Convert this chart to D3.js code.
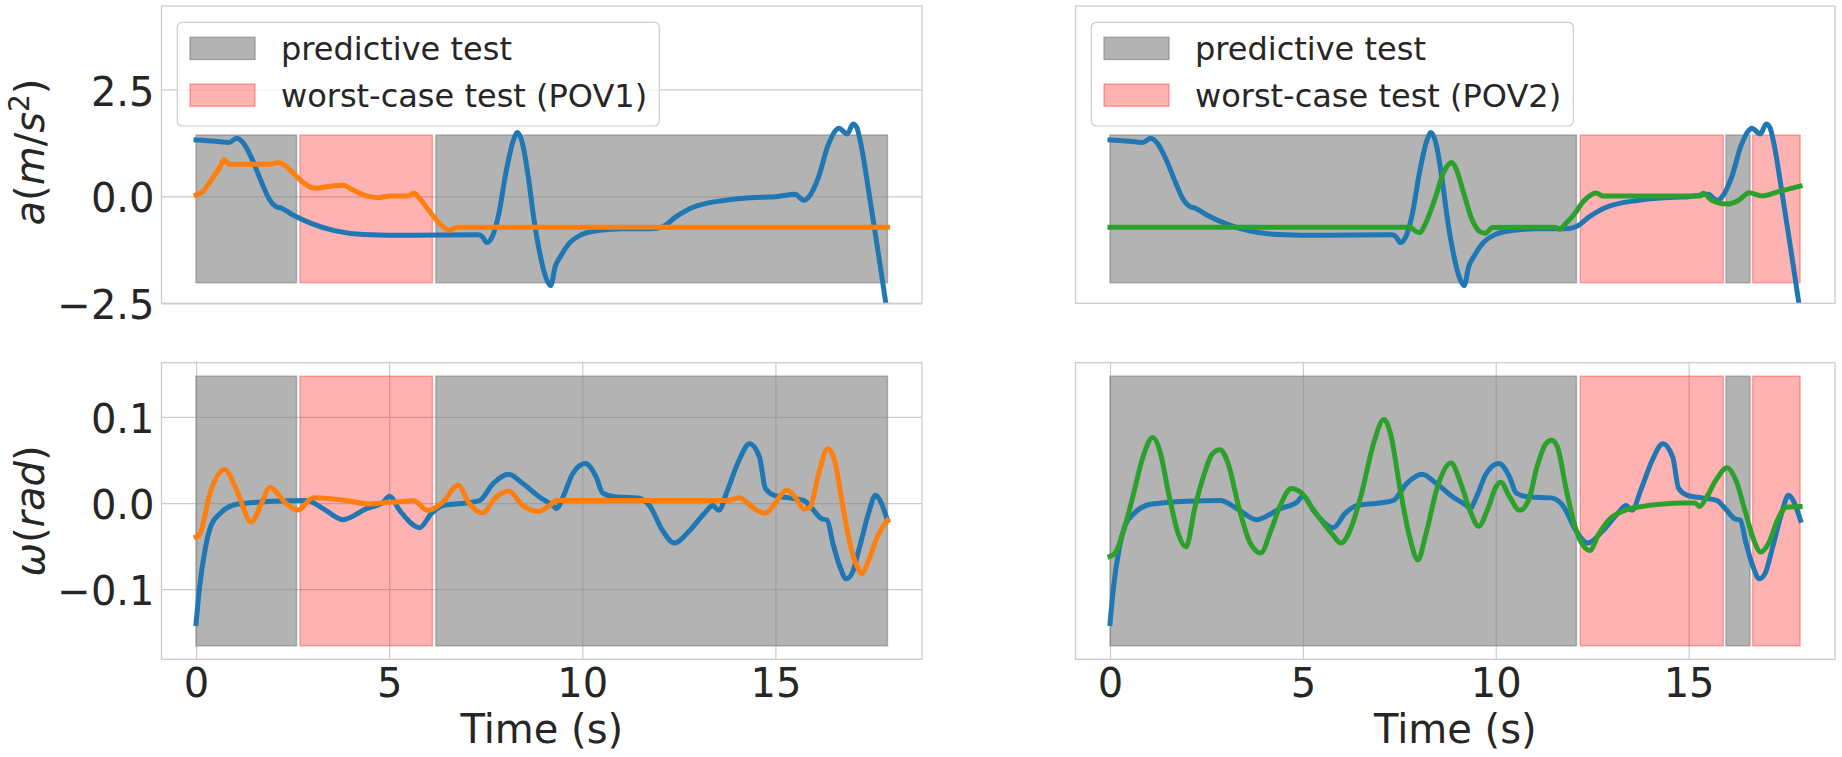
<!DOCTYPE html>
<html>
<head>
<meta charset="utf-8">
<script src="https://cdn.jsdelivr.net/npm/d3@7"></script>
<style>
  body { margin: 0; background: #fff; }
  text { font-family: "DejaVu Sans", sans-serif; fill: #262626; }
</style>
</head>
<body>
<svg id="chart" width="1842" height="757"></svg>
<script>
// ---- data: [time (s), value] ----
const accelBlue = [[0,1.32],[0.5,1.29],[0.85,1.26],[1.05,1.36],[1.23,1.24],[1.46,0.85],[1.69,0.34],[1.91,-0.09],[2.07,-0.24],[2.19,-0.27],[2.52,-0.44],[2.98,-0.63],[3.58,-0.80],[4.34,-0.89],[5.56,-0.91],[7.31,-0.90],[7.41,-0.94],[7.53,-1.08],[7.66,-0.96],[7.84,-0.40],[8.02,0.54],[8.22,1.32],[8.32,1.49],[8.45,1.24],[8.60,0.46],[8.75,-0.55],[8.90,-1.33],[9.05,-1.88],[9.18,-2.09],[9.30,-1.64],[9.43,-1.41],[9.66,-1.10],[9.97,-0.90],[10.42,-0.80],[11.03,-0.76],[11.79,-0.76],[12.08,-0.71],[12.42,-0.48],[12.85,-0.26],[13.71,-0.09],[14.67,-0.02],[15.0,-0.01],[15.52,0.05],[15.64,-0.04],[15.74,-0.09],[15.85,-0.03],[16.12,0.46],[16.35,1.16],[16.57,1.55],[16.64,1.59],[16.86,1.46],[17.01,1.69],[17.10,1.62],[17.25,1.05],[17.41,0.15],[17.56,-0.72],[17.71,-1.6],[17.9,-2.75]];
const accelPov1 = [[0,0.03],[0.17,0.11],[0.39,0.38],[0.62,0.69],[0.73,0.86],[0.85,0.75],[1.31,0.75],[1.91,0.75],[2.14,0.79],[2.29,0.73],[2.52,0.54],[2.75,0.34],[2.98,0.21],[3.13,0.19],[3.43,0.23],[3.81,0.26],[4.04,0.16],[4.42,0.01],[4.72,-0.03],[5.03,0.01],[5.48,0.01],[5.64,0.07],[5.79,-0.05],[6.02,-0.32],[6.29,-0.62],[6.55,-0.79],[6.65,-0.76],[6.78,-0.72],[17.9,-0.72]];
const accelPov2 = [[0,-0.72],[7.80,-0.72],[7.88,-0.79],[8.03,-0.85],[8.18,-0.63],[8.41,-0.09],[8.64,0.54],[8.76,0.73],[8.86,0.79],[8.97,0.65],[9.17,0.07],[9.39,-0.55],[9.62,-0.84],[9.73,-0.86],[9.92,-0.73],[11.52,-0.72],[11.65,-0.77],[11.82,-0.63],[12.05,-0.40],[12.27,-0.12],[12.5,0.05],[12.6,0.08],[12.77,0.01],[15.30,0.01],[15.38,0.07],[15.6,-0.09],[15.99,-0.18],[16.3,-0.09],[16.57,0.085],[16.9,0.01],[17.33,0.11],[17.89,0.24]];

const omegaBlue = [[0,-0.140],[0.09,-0.098],[0.23,-0.055],[0.39,-0.026],[0.62,-0.0123],[1.05,-0.0015],[2.0,0.002],[2.86,0.003],[3.29,-0.0065],[3.8,-0.0193],[4.41,-0.0065],[4.84,0.001],[5.01,0.0078],[5.27,-0.0085],[5.79,-0.0286],[6.09,-0.0123],[6.39,-0.003],[7.0,0.0],[7.34,0.003],[7.69,0.0226],[8.09,0.0334],[8.46,0.0226],[8.89,0.007],[9.24,-0.003],[9.33,-0.0065],[9.5,0.007],[9.75,0.034],[10.08,0.0458],[10.36,0.030],[10.53,0.0116],[10.88,0.007],[11.44,0.006],[11.74,-0.003],[12.08,-0.032],[12.38,-0.0465],[12.78,-0.032],[13.16,-0.012],[13.38,-0.003],[13.53,-0.0085],[13.76,0.015],[14.06,0.050],[14.33,0.069],[14.59,0.053],[14.74,0.017],[14.97,0.009],[15.35,0.006],[15.73,0.003],[15.96,-0.007],[16.19,-0.018],[16.34,-0.020],[16.49,-0.047],[16.67,-0.074],[16.83,-0.088],[16.98,-0.082],[17.18,-0.051],[17.41,-0.012],[17.59,0.009],[17.71,0.003],[17.9,-0.020]];
const omegaPov1 = [[0,-0.0395],[0.10,-0.036],[0.36,0.011],[0.74,0.039],[1.05,0.015],[1.43,-0.022],[1.69,-0.001],[1.91,0.018],[2.34,-0.001],[2.64,-0.008],[3.03,0.006],[3.46,0.005],[3.89,0.003],[4.45,-0.001],[5.01,0.001],[5.45,0.002],[5.62,0.003],[6.0,-0.0085],[6.39,0.001],[6.78,0.0206],[7.08,-0.001],[7.41,-0.0116],[7.77,0.007],[8.09,0.014],[8.46,-0.003],[8.85,-0.0097],[9.15,-0.003],[9.33,0.003],[13.76,0.003],[14.07,0.006],[14.3,-0.001],[14.52,-0.0085],[14.75,-0.012],[14.98,-0.001],[15.29,0.015],[15.51,0.007],[15.74,-0.007],[15.89,-0.005],[16.12,0.034],[16.35,0.063],[16.53,0.050],[16.72,0.003],[16.95,-0.051],[17.14,-0.076],[17.23,-0.082],[17.41,-0.067],[17.63,-0.040],[17.9,-0.020]];
const omegaPov2 = [[0,-0.062],[0.15,-0.057],[0.38,-0.028],[0.61,0.011],[0.83,0.050],[1.11,0.076],[1.29,0.061],[1.52,0.011],[1.77,-0.036],[1.97,-0.051],[2.20,-0.005],[2.43,0.032],[2.65,0.057],[2.85,0.062],[3.06,0.046],[3.34,-0.005],[3.64,-0.047],[3.91,-0.058],[4.17,-0.032],[4.43,-0.001],[4.70,0.017],[4.98,0.011],[5.23,-0.005],[5.54,-0.024],[5.76,-0.036],[5.99,-0.0465],[6.22,-0.032],[6.52,0.011],[6.83,0.069],[7.10,0.097],[7.28,0.079],[7.51,0.019],[7.77,-0.040],[7.98,-0.066],[8.19,-0.036],[8.49,0.019],[8.84,0.0465],[9.10,0.022],[9.33,-0.0085],[9.56,-0.027],[9.78,-0.0085],[10.01,0.019],[10.13,0.024],[10.36,0.007],[10.62,-0.0085],[10.85,0.003],[11.07,0.042],[11.30,0.069],[11.45,0.073],[11.60,0.065],[11.83,0.015],[12.06,-0.028],[12.26,-0.049],[12.44,-0.055],[12.67,-0.036],[12.97,-0.018],[13.35,-0.0085],[13.80,-0.004],[14.26,-0.0015],[14.86,0.0],[15.17,0.0],[15.28,-0.004],[15.47,0.007],[15.70,0.026],[16.00,0.041],[16.23,0.026],[16.46,-0.0085],[16.69,-0.043],[16.87,-0.057],[17.07,-0.047],[17.30,-0.020],[17.53,-0.005],[17.89,-0.004]];

// test windows: [start, end, kind]
const pov1Windows = [[0,2.6,"pred"],[2.69,6.12,"worst"],[6.21,17.9,"pred"]];
const pov2Windows = [[0,12.09,"pred"],[12.19,15.9,"worst"],[15.97,16.59,"pred"],[16.66,17.89,"worst"]];

const xTicks = [0, 5, 10, 15];
const accelTicks = [-2.5, 0, 2.5];
const omegaTicks = [-0.1, 0, 0.1];
const legendLabels = ["predictive test", "worst-case test (POV1)", "worst-case test (POV2)"];

// ---- layout ----
const svg = d3.select("#chart");
const cols = [{x0: 161.5, x1: 922}, {x0: 1075.5, x1: 1835}];
const rows = [{y0: 6, y1: 303.3}, {y0: 362.7, y1: 659.3}];
const xDomain = [-0.895, 18.795];
const blue = "#1f77b4", orange = "#ff7f0e", green = "#2ca02c";
const gridColor = "#cccccc";
const tickFont = 40, legendFont = 32;

const panels = [
    {col: 0, row: 0, yDomain: [-2.5, 4.45], yTicks: accelTicks, box: [-2.019, 1.432], hgrid: true, vgrid: false, yLabels: true, xLabels: false,
        lines: [[accelBlue, blue], [accelPov1, orange]], windows: pov1Windows, legend: legendLabels[1]},
    {col: 1, row: 0, yDomain: [-2.5, 4.45], yTicks: accelTicks, box: [-2.019, 1.432], hgrid: false, vgrid: false, yLabels: false, xLabels: false,
        lines: [[accelBlue, blue], [accelPov2, green]], windows: pov2Windows, legend: legendLabels[2]},
    {col: 0, row: 1, yDomain: [-0.1815, 0.163], yTicks: omegaTicks, box: [-0.1658, 0.1473], hgrid: true, vgrid: true, yLabels: true, xLabels: true,
        lines: [[omegaBlue, blue], [omegaPov1, orange]], windows: pov1Windows},
    {col: 1, row: 1, yDomain: [-0.1815, 0.163], yTicks: omegaTicks, box: [-0.1658, 0.1473], hgrid: false, vgrid: true, yLabels: false, xLabels: true,
        lines: [[omegaBlue, blue], [omegaPov2, green]], windows: pov2Windows}
];

const fmt = v => (v < 0 ? "\u2212" : "") + d3.format(".1f")(Math.abs(v));

panels.forEach((p, i) => {
    const c = cols[p.col], r = rows[p.row];
    const w = c.x1 - c.x0, h = r.y1 - r.y0;
    const x = d3.scaleLinear().domain(xDomain).range([c.x0, c.x1]);
    const y = d3.scaleLinear().domain(p.yDomain).range([r.y1, r.y0]);

    const g = svg.append("g");

    // grid
    if (p.hgrid) {
        g.append("g")
            .attr("transform", `translate(${c.x0},0)`)
            .call(d3.axisLeft(y).tickValues(p.yTicks).tickSize(-w).tickFormat(""))
            .call(a => a.select(".domain").remove())
            .call(a => a.selectAll("line").attr("stroke", gridColor).attr("stroke-width", 1.2));
    }
    if (p.vgrid) {
        g.append("g")
            .attr("transform", `translate(0,${r.y1})`)
            .call(d3.axisBottom(x).tickValues(xTicks).tickSize(-h).tickFormat(""))
            .call(a => a.select(".domain").remove())
            .call(a => a.selectAll("line").attr("stroke", gridColor).attr("stroke-width", 1.2));
    }

    // test windows
    g.append("g").selectAll("rect")
        .data(p.windows)
        .join("rect")
        .attr("x", d => x(d[0]))
        .attr("width", d => x(d[1]) - x(d[0]))
        .attr("y", y(p.box[1]))
        .attr("height", y(p.box[0]) - y(p.box[1]))
        .attr("fill", d => d[2] === "pred" ? "gray" : "red")
        .attr("fill-opacity", d => d[2] === "pred" ? 0.6 : 0.3)
        .attr("stroke", d => d[2] === "pred" ? "gray" : "red")
        .attr("stroke-opacity", d => d[2] === "pred" ? 0.6 : 0.3)
        .attr("stroke-width", 1.5);

    // lines
    svg.append("clipPath").attr("id", "clip" + i)
        .append("rect").attr("x", c.x0).attr("y", r.y0).attr("width", w).attr("height", h);
    const line = d3.line().x(d => x(d[0])).y(d => y(d[1])).curve(d3.curveMonotoneX);
    g.append("g").attr("clip-path", `url(#clip${i})`)
        .selectAll("path")
        .data(p.lines)
        .join("path")
        .attr("d", d => line(d[0]))
        .attr("fill", "none")
        .attr("stroke", d => d[1])
        .attr("stroke-width", 5)
        .attr("stroke-linejoin", "round")
        .attr("stroke-linecap", "square");

    // frame
    g.append("rect")
        .attr("x", c.x0).attr("y", r.y0).attr("width", w).attr("height", h)
        .attr("fill", "none").attr("stroke", gridColor).attr("stroke-width", 1.3);

    // tick labels
    if (p.yLabels) {
        g.append("g")
            .attr("transform", `translate(${c.x0},0)`)
            .call(d3.axisLeft(y).tickValues(p.yTicks).tickSize(0).tickPadding(7).tickFormat(fmt))
            .call(a => a.select(".domain").remove())
            .call(a => a.selectAll("text").attr("dy", "0.39em").style("font-size", tickFont + "px")
                .attr("fill", "#262626").style("font-family", "DejaVu Sans"));
    }
    if (p.xLabels) {
        g.append("g")
            .attr("transform", `translate(0,${r.y1})`)
            .call(d3.axisBottom(x).tickValues(xTicks).tickSize(0).tickPadding(9.6).tickFormat(d3.format("d")))
            .call(a => a.select(".domain").remove())
            .call(a => a.selectAll("text").style("font-size", tickFont + "px")
                .attr("fill", "#262626").style("font-family", "DejaVu Sans"));
        g.append("text")
            .attr("x", (c.x0 + c.x1) / 2).attr("y", 742.5)
            .attr("text-anchor", "middle")
            .style("font-size", tickFont + "px")
            .text("Time (s)");
    }

    // legend
    if (p.legend) {
        const lx = c.x0 + 15.8, ly = r.y0 + 16.3;
        const lg = g.append("g").attr("transform", `translate(${lx},${ly})`);
        lg.append("rect")
            .attr("width", 482).attr("height", 103.7).attr("rx", 5)
            .attr("fill", "white").attr("fill-opacity", 0.8)
            .attr("stroke", gridColor).attr("stroke-width", 1.2);
        const items = [[legendLabels[0], "gray", 0.6], [p.legend, "red", 0.3]];
        items.forEach((it, k) => {
            lg.append("rect")
                .attr("x", 12.7).attr("y", 15 + k * 46.8)
                .attr("width", 65).attr("height", 22.2)
                .attr("fill", it[1]).attr("fill-opacity", it[2])
                .attr("stroke", it[1]).attr("stroke-opacity", it[2]).attr("stroke-width", 1.5);
            lg.append("text")
                .attr("x", 103.7).attr("y", 37.5 + k * 46.8)
                .style("font-size", legendFont + "px")
                .text(it[0]);
        });
    }
});

// y-axis labels (mathtext style)
const ylab1 = svg.append("text")
    .attr("transform", "translate(44,152) rotate(-90)")
    .attr("text-anchor", "middle")
    .style("font-size", tickFont + "px");
ylab1.append("tspan").style("font-style", "italic").text("a");
ylab1.append("tspan").text("(");
ylab1.append("tspan").style("font-style", "italic").text("m");
ylab1.append("tspan").text("/");
ylab1.append("tspan").style("font-style", "italic").text("s");
ylab1.append("tspan").attr("dy", -15).style("font-size", "28px").text("2");
ylab1.append("tspan").attr("dy", 15).text(")");

const ylab2 = svg.append("text")
    .attr("transform", "translate(44,511) rotate(-90)")
    .attr("text-anchor", "middle")
    .style("font-size", tickFont + "px");
ylab2.append("tspan").style("font-style", "italic").text("\u03c9");
ylab2.append("tspan").text("(");
ylab2.append("tspan").style("font-style", "italic").text("rad");
ylab2.append("tspan").text(")");
</script>
</body>
</html>
